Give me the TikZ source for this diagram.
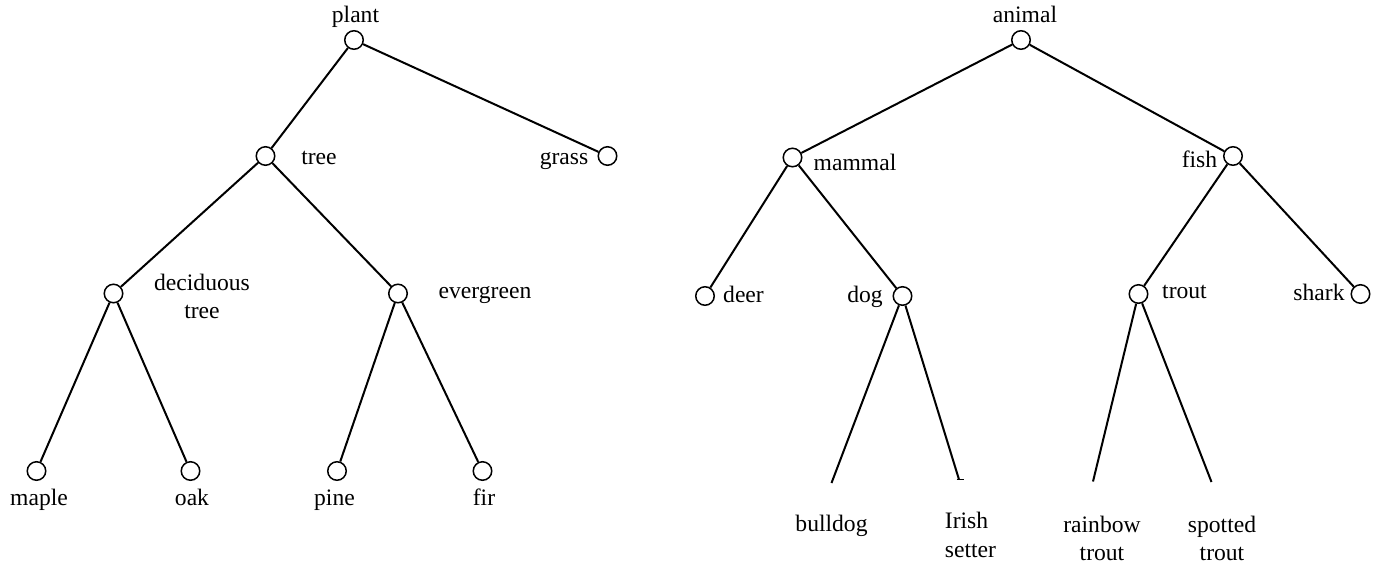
\documentclass[tikz,border=0pt]{standalone}
\usepackage{fontspec}
\setmainfont{Liberation Serif}
\begin{document}
\begin{tikzpicture}[x=1pt,y=-1pt,
  vtx/.style={circle,draw,line width=1.5pt,minimum size=18.5pt,inner sep=0pt},
  edge/.style={line width=2pt},
  lbl/.style={inner sep=0pt,anchor=base,font=\fontsize{23.6}{28.5}\selectfont},
  lbl2/.style={inner sep=0pt,anchor=base,align=center,font=\fontsize{23.6}{28.5}\selectfont}]
\useasboundingbox (0,0) rectangle (1377,566);
% left tree
\node[vtx] (plant) at (354,40) {};
\node[vtx] (tree) at (265.5,156) {};
\node[vtx] (grass) at (607.5,156) {};
\node[vtx] (decid) at (113.5,293.5) {};
\node[vtx] (everg) at (398,293.5) {};
\node[vtx] (maple) at (36.5,471) {};
\node[vtx] (oak) at (190.5,471) {};
\node[vtx] (pine) at (337,471) {};
\node[vtx] (fir) at (482.5,471) {};
\draw[edge] (plant) -- (tree);
\draw[edge] (plant) -- (grass);
\draw[edge] (tree) -- (decid);
\draw[edge] (tree) -- (everg);
\draw[edge] (decid) -- (maple);
\draw[edge] (decid) -- (oak);
\draw[edge] (everg) -- (pine);
\draw[edge] (everg) -- (fir);
\node[lbl] (lplant) at (355.5,22.5) {plant};
\node[lbl] (ltree) at (319,164) {tree};
\node[lbl] (lgrass) at (564,164) {grass};
\node[lbl2] (ldecid) at (202,318.5) {deciduous\\tree};
\node[lbl] (leverg) at (485,298.5) {evergreen};
\node[lbl] (lmaple) at (39,505) {maple};
\node[lbl] (loak) at (192,505) {oak};
\node[lbl] (lpine) at (334.5,505) {pine};
\node[lbl] (lfir) at (484,505) {fir};
% right tree
\node[vtx] (animal) at (1021,40) {};
\node[vtx] (mammal) at (792.5,157.5) {};
\node[vtx] (fish) at (1233,156) {};
\node[vtx] (deer) at (705,296) {};
\node[vtx] (dog) at (902.5,296) {};
\node[vtx] (trout) at (1138.5,294) {};
\node[vtx] (shark) at (1360.5,294) {};
\coordinate (bulldog) at (831.5,483);
\coordinate (irish) at (959,479.5);
\coordinate (rainbow) at (1093,481.5);
\coordinate (spotted) at (1211.5,482);
\draw[edge] (animal) -- (mammal);
\draw[edge] (animal) -- (fish);
\draw[edge] (mammal) -- (deer);
\draw[edge] (mammal) -- (dog);
\draw[edge] (fish) -- (trout);
\draw[edge] (fish) -- (shark);
\draw[edge] (dog) -- (bulldog);
\draw[edge] (dog) -- (irish);
\draw[edge] (trout) -- (rainbow);
\draw[edge] (trout) -- (spotted);
\draw[line width=1.2pt] ([xshift=-2.5pt]irish) -- ([xshift=4.5pt]irish);
\node[lbl] (lanimal) at (1025,22) {animal};
\node[lbl] (lmammal) at (855,170) {mammal};
\node[lbl] (lfish) at (1199.5,167) {fish};
\node[lbl] (ldeer) at (743.5,302.5) {deer};
\node[lbl] (ldog) at (865,302.5) {dog};
\node[lbl] (ltrout) at (1184.5,298.5) {trout};
\node[lbl] (lshark) at (1319,300) {shark};
\node[lbl] (lbulldog) at (831.5,531.5) {bulldog};
\node[lbl2,align=left] (lirish) at (970.5,557) {Irish\\setter};
\node[lbl2] (lrainbow) at (1102,560.5) {rainbow\\trout};
\node[lbl2] (lspotted) at (1222,560.5) {spotted\\trout};
\end{tikzpicture}
\end{document}
